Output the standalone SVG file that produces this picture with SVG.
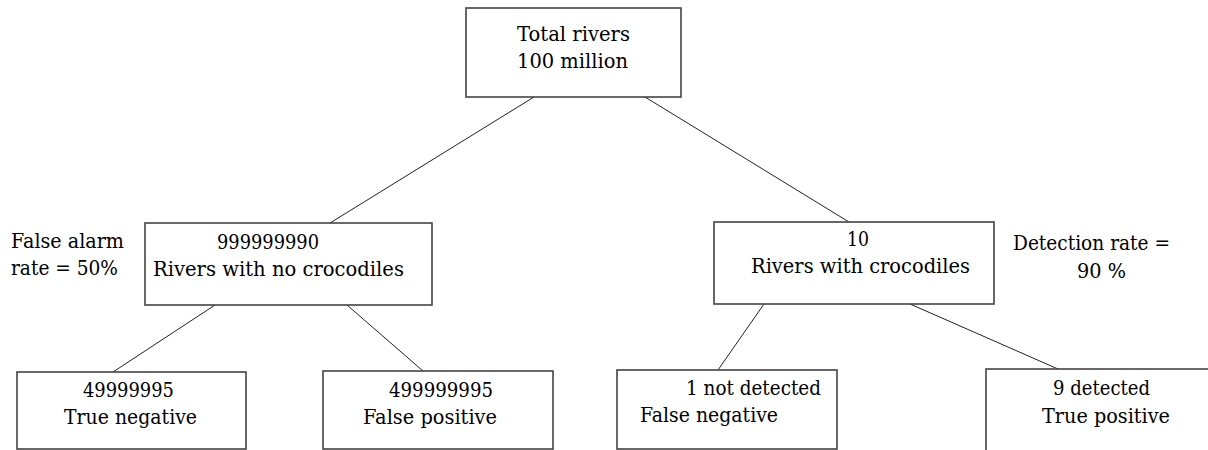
<svg xmlns="http://www.w3.org/2000/svg" width="1208" height="450" viewBox="0 0 1208 450">
<style>
.box{fill:#fff;stroke:#444;stroke-width:1.6}
.t{font-family:'DejaVu Serif',serif;font-size:21px;fill:#000}
.c{stroke:#222;stroke-width:1;fill:none}
</style>
<rect width="1208" height="450" fill="#fff"/>
<g id="connectors">
<line class="c" x1="534" y1="97" x2="330" y2="223"/>
<line class="c" x1="645" y1="97" x2="849" y2="222"/>
<line class="c" x1="215" y1="305" x2="113" y2="372"/>
<line class="c" x1="347" y1="305" x2="423" y2="371"/>
<line class="c" x1="764" y1="304" x2="718" y2="370"/>
<line class="c" x1="910" y1="304" x2="1058" y2="369"/>
</g>
<g id="total">
<rect class="box" x="466" y="8" width="215" height="89"/>
<text class="t" x="517" y="41" textLength="113" lengthAdjust="spacingAndGlyphs">Total rivers</text>
<text class="t" x="517" y="68" textLength="111" lengthAdjust="spacingAndGlyphs">100 million</text>
</g>
<g id="no-croc">
<rect class="box" x="145" y="223" width="287" height="82"/>
<text class="t" x="217" y="249" textLength="102" lengthAdjust="spacingAndGlyphs">999999990</text>
<text class="t" x="153" y="276" textLength="251" lengthAdjust="spacingAndGlyphs">Rivers with no crocodiles</text>
</g>
<g id="false-alarm">
<text class="t" x="11" y="248" textLength="113" lengthAdjust="spacingAndGlyphs">False alarm</text>
<text class="t" x="11" y="275" textLength="107" lengthAdjust="spacingAndGlyphs">rate = 50%</text>
</g>
<g id="croc">
<rect class="box" x="714" y="222" width="280" height="82"/>
<text class="t" x="847" y="246" textLength="22" lengthAdjust="spacingAndGlyphs">10</text>
<text class="t" x="751" y="273" textLength="219" lengthAdjust="spacingAndGlyphs">Rivers with crocodiles</text>
</g>
<g id="detection">
<text class="t" x="1013" y="250" textLength="157" lengthAdjust="spacingAndGlyphs">Detection rate =</text>
<text class="t" x="1077" y="278" textLength="49" lengthAdjust="spacingAndGlyphs">90 %</text>
</g>
<g id="true-neg">
<rect class="box" x="17" y="372" width="229" height="77"/>
<text class="t" x="83" y="397" textLength="91" lengthAdjust="spacingAndGlyphs">49999995</text>
<text class="t" x="64" y="424" textLength="133" lengthAdjust="spacingAndGlyphs">True negative</text>
</g>
<g id="false-pos">
<rect class="box" x="323" y="371" width="230" height="78"/>
<text class="t" x="389" y="397" textLength="104" lengthAdjust="spacingAndGlyphs">499999995</text>
<text class="t" x="363" y="424" textLength="134" lengthAdjust="spacingAndGlyphs">False positive</text>
</g>
<g id="false-neg">
<rect class="box" x="617" y="370" width="220" height="79"/>
<text class="t" x="686" y="395" textLength="135" lengthAdjust="spacingAndGlyphs">1 not detected</text>
<text class="t" x="640" y="422" textLength="138" lengthAdjust="spacingAndGlyphs">False negative</text>
</g>
<g id="true-pos">
<rect class="box" x="986" y="369" width="240" height="90"/>
<text class="t" x="1053" y="395" textLength="97" lengthAdjust="spacingAndGlyphs">9 detected</text>
<text class="t" x="1042" y="423" textLength="128" lengthAdjust="spacingAndGlyphs">True positive</text>
</g>
</svg>
